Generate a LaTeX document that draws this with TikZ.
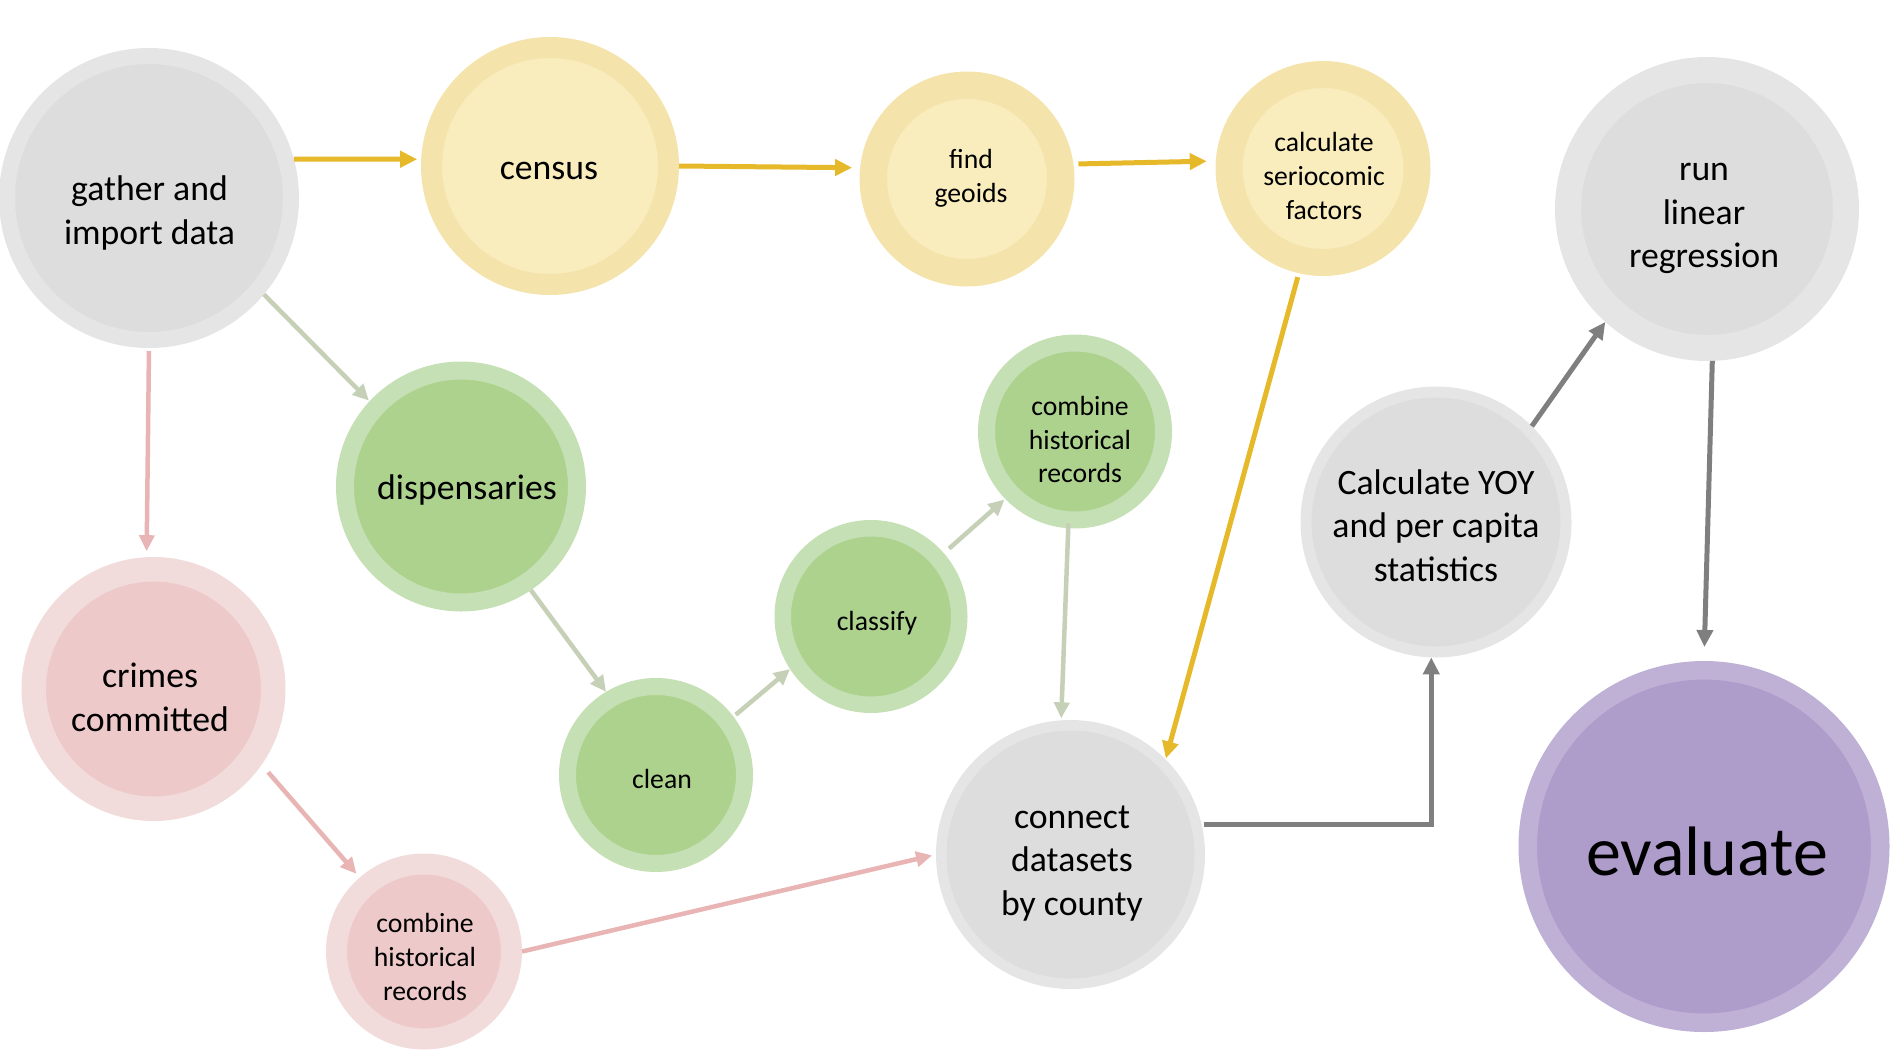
\documentclass[tikz,border=0pt]{standalone}
\usepackage{fontspec}
\setmainfont{Carlito}
\usetikzlibrary{arrows.meta}
\definecolor{grayO}{HTML}{E5E5E5}
\definecolor{grayI}{HTML}{DDDDDD}
\definecolor{yelO}{HTML}{F5E3AC}
\definecolor{yelI}{HTML}{F9EDBD}
\definecolor{grnO}{HTML}{C5E0B4}
\definecolor{grnI}{HTML}{ADD28E}
\definecolor{pnkO}{HTML}{F2DCDB}
\definecolor{pnkI}{HTML}{EDC9C9}
\definecolor{purO}{HTML}{BFB0D6}
\definecolor{purI}{HTML}{AE9CCB}
\definecolor{arGold}{HTML}{E6B92A}
\definecolor{arGreen}{HTML}{C5D0B7}
\definecolor{arPink}{HTML}{E8B4B4}
\definecolor{arGray}{HTML}{7F7F7F}
\tikzset{
  bub/.style 2 args={circle, inner sep=0pt, line width=#1pt-#2pt,
    minimum size=#1pt+#2pt, outer sep=0.5*#1pt-0.5*#2pt},
  gbub/.style={draw=grayO, fill=grayI},
  ybub/.style={draw=yelO, fill=yelI},
  grbub/.style={draw=grnO, fill=grnI},
  pbub/.style={draw=pnkO, fill=pnkI},
  vbub/.style={draw=purO, fill=purI},
  tbig/.style={align=center, inner sep=0pt, font=\fontsize{35.7}{43.5}\selectfont},
  tsmall/.style={align=center, inner sep=0pt, font=\fontsize{27.7}{33.8}\selectfont},
  thuge/.style={align=center, inner sep=0pt, font=\fontsize{70}{84}\selectfont},
  arr/.style={-{Triangle[length=17pt,width=16pt]}, line width=5pt},
  arrthin/.style={-{Triangle[length=16pt,width=15pt]}, line width=4.5pt},
}
\begin{document}
\begin{tikzpicture}[x=1pt,y=-1pt]
\useasboundingbox (0,0) rectangle (1897,1055);
% circles
\node[bub={150}{134}, gbub] (gather) at (149,198) {};
\node[bub={129}{108}, ybub] (census) at (550,166) {};
\node[bub={107.5}{80}, ybub] (geoids) at (967,179) {};
\node[bub={107.5}{80.5}, ybub] (calc) at (1323,168.5) {};
\node[bub={152}{126}, gbub] (run) at (1707,209) {};
\node[bub={125}{107}, grbub] (disp) at (461,486.5) {};
\node[bub={97}{80}, grbub] (combg) at (1075,431.5) {};
\node[bub={96.5}{80}, grbub] (classify) at (871,616.5) {};
\node[bub={97}{80}, grbub] (clean) at (656,775) {};
\node[bub={135.5}{124.5}, gbub] (yoy) at (1436,522) {};
\node[bub={132}{107.5}, pbub] (crimes) at (153.5,689) {};
\node[bub={98}{77}, pbub] (combp) at (424,951.5) {};
\node[bub={134.5}{124}, gbub] (connect) at (1070.5,854.5) {};
\node[bub={185.5}{167}, vbub] (evaluate) at (1704,846.5) {};
% texts
\node[tbig] (gather-t) at (149.5,213) {gather and\\import data};
\node[tbig] (census-t) at (549,171) {census};
\node[tsmall] (geoids-t) at (971,178) {find\\geoids};
\node[tsmall] (calc-t) at (1324,176) {calculate\\seriocomic\\factors};
\node[tbig] (run-t) at (1704,218.5) {run\\linear\\regression};
\node[tbig] (disp-t) at (467,490) {dispensaries};
\node[tsmall] (combg-t) at (1080,439.5) {combine\\historical\\records};
\node[tsmall] (classify-t) at (877,623) {classify};
\node[tsmall] (clean-t) at (662,779) {clean};
\node[tbig] (yoy-t) at (1436,525.5) {Calculate YOY\\and per capita\\statistics};
\node[tbig] (crimes-t) at (150,697.5) {crimes\\committed};
\node[tsmall] (combp-t) at (425,957) {combine\\historical\\records};
\node[tbig] (connect-t) at (1072,863.5) {connect\\datasets\\by county};
\node[thuge] (evaluate-t) at (1707,851) {evaluate};
% connectors: census branch
\draw[arr, arGold, shorten >=4pt] (gather.15) -- (census.177);
\draw[arr, arGold, shorten >=8pt] (census.0) -- (geoids.174.5);
\draw[arr, arGold, shorten <=5pt, shorten >=9pt] (geoids.8.7) -- (calc.176.3);
\draw[arr, arGold, shorten <=4pt, shorten >=1pt] (calc.-103) -- (connect.45);
% dispensaries branch
\draw[arrthin, arGreen, shorten >=1pt] (gather.-40) -- (disp.137);
\draw[arrthin, arGreen] (disp.-56) -- (clean.121);
\draw[arrthin, arGreen, shorten <=3pt] (clean.37) -- (classify.213);
\draw[arrthin, arGreen, shorten <=7pt, shorten >=1pt] (classify.41) -- (combg.224);
\draw[arrthin, arGreen, shorten <=-5pt, shorten >=2pt] (combg.-94) -- (connect.94);
% crimes branch
\draw[arrthin, arPink, shorten <=3pt, shorten >=6pt] (gather.-90) -- (crimes.93);
\draw[arrthin, arPink, shorten <=10pt, shorten >=5pt] (crimes.-35) -- (combp.131);
\draw[arrthin, arPink, shorten >=4pt] (combp.0) -- (connect.180);
% analysis
\draw[arr, arGray, shorten <=2pt] (connect.13.7) -| (yoy.-92);
\draw[arr, arGray] (yoy.45) -- (run.228);
\draw[arr, arGray, shorten >=14pt] (run.-88) -- (evaluate.90.6);
\end{tikzpicture}
\end{document}
